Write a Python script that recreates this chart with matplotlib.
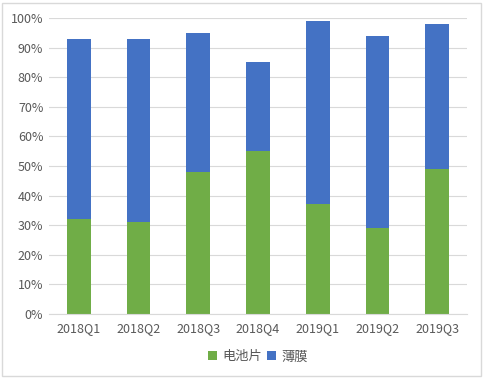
import numpy as np
import matplotlib.pyplot as plt
from matplotlib.patches import Rectangle

plt.rcParams['font.family'] = ['Noto Sans CJK SC', 'DejaVu Sans']

quarters = ['2018Q1', '2018Q2', '2018Q3', '2018Q4', '2019Q1', '2019Q2', '2019Q3']
cell = [32, 31, 48, 55, 37, 29, 49]      # 电池片
film = [61, 62, 47, 30, 62, 65, 49]      # 薄膜

GREEN = '#70AD47'
BLUE = '#4472C4'
GRID = '#D9D9D9'
TXT = '#595959'

fig = plt.figure(figsize=(4.84, 3.79), dpi=100)
ax = fig.add_axes([0.101, 0.1715, 0.864, 0.781])

x = np.arange(len(quarters))
ax.bar(x, cell, width=0.4, color=GREEN, label='电池片', zorder=3)
ax.bar(x, film, width=0.4, bottom=cell, color=BLUE, label='薄膜', zorder=3)

ax.set_xlim(-0.5, len(quarters) - 0.5)
ax.set_ylim(0, 100)
ax.set_yticks(np.arange(0, 101, 10))
ax.set_yticklabels([f'{v}%' for v in range(0, 101, 10)])
ax.set_xticks(x)
ax.set_xticklabels(quarters)
ax.tick_params(axis='both', length=0, labelsize=9, labelcolor=TXT)
ax.tick_params(axis='x', pad=6)
ax.tick_params(axis='y', pad=4)
ax.grid(axis='y', color=GRID, lw=0.8, zorder=0)
for s in ['top', 'right', 'left']:
    ax.spines[s].set_visible(False)
ax.spines['bottom'].set_color(GRID)
ax.spines['bottom'].set_zorder(4)

ax.legend(loc='center', bbox_to_anchor=(0.5, -0.145), ncol=2, frameon=False,
          fontsize=9.5, handlelength=0.7, handleheight=0.7, handletextpad=0.4,
          columnspacing=0.4, labelcolor=TXT)

fig.patches.append(Rectangle((0.004, 0.008), 0.99, 0.984, transform=fig.transFigure,
                             fill=False, edgecolor='#D9D9D9', lw=1))

fig.savefig('out.png', dpi=100)
